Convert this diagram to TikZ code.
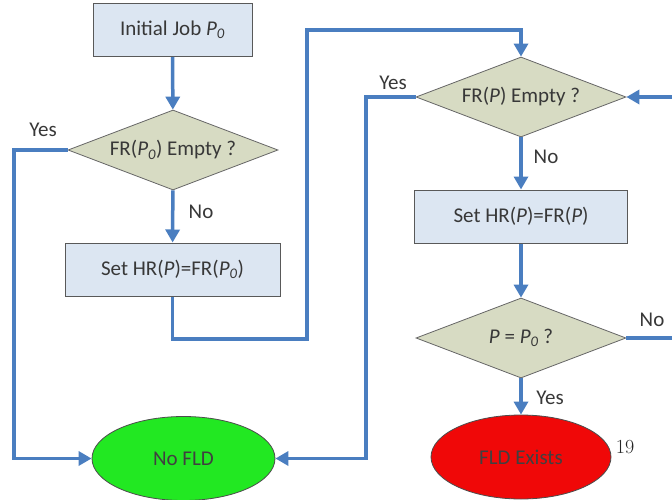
\documentclass[tikz,border=0pt]{standalone}
\usepackage{fontspec}
\setmainfont{Carlito}
\usetikzlibrary{shapes.geometric,arrows.meta}
\definecolor{flow}{HTML}{4A7EC0}
\definecolor{boxfill}{HTML}{DCE6F2}
\definecolor{decfill}{HTML}{D7DBC3}
\definecolor{txt}{HTML}{383838}
\tikzset{
  procbox/.style={draw=black!65, line width=1pt, fill=boxfill, minimum height=53pt, inner sep=0pt, text=txt, font=\fontsize{21}{24}\selectfont},
  decbox/.style={diamond, draw=black!60, line width=0.8pt, fill=decfill, minimum width=210pt, minimum height=80pt, aspect=2.6, inner sep=0pt, text=txt, font=\fontsize{21}{24}\selectfont},
  termbox/.style={ellipse, draw=black!70, line width=0.8pt, minimum width=183pt, minimum height=84pt, inner sep=0pt, text=black!75, font=\fontsize{21}{24}\selectfont},
  conn/.style={draw=flow, line width=3.5pt, -{Triangle[length=13pt,width=14pt]}},
  plain/.style={draw=flow, line width=3.5pt},
  lbl/.style={text=txt, font=\fontsize{21}{24}\selectfont, inner sep=0pt}
}
\begin{document}
\begin{tikzpicture}[x=1pt,y=-1pt]
\clip (0,0) rectangle (672,500);
\fill[white] (0,0) rectangle (672,500);
% nodes
\node[procbox, minimum width=159pt] (init) at (172.5,30) {Initial Job \textit{P\textsubscript{0}}};
\node[decbox] (d1) at (173,150) {FR(\textit{P\textsubscript{0}}) Empty ?};
\node[procbox, minimum width=215pt] (s1) at (172.5,269.5) {Set HR(\textit{P})=FR(\textit{P\textsubscript{0}})};
\node[decbox] (d2) at (521,97) {FR(\textit{P}) Empty ?};
\node[procbox, minimum width=213pt] (s2) at (521,216.5) {Set HR(\textit{P})=FR(\textit{P})};
\node[decbox] (d3) at (521,338) {\textit{P} = \textit{P\textsubscript{0}} ?};
\node[termbox, fill={rgb,255:red,34;green,232;blue,34}] (nofld) at (183.5,458.5) {No FLD};
\node[termbox, fill={rgb,255:red,240;green,8;blue,8}, minimum width=180pt] (fld) at (521,457) {FLD Exists};
\coordinate (rin) at (672,97);
\coordinate (rout) at (672,338);
% labels
\node[lbl] (y1) at (43,130) {Yes};
\node[lbl] (n1) at (201,212) {No};
\node[lbl] (y2) at (393,83) {Yes};
\node[lbl] (n2) at (546,157) {No};
\node[lbl] (n3) at (652,320) {No};
\node[lbl] (y3) at (550,398) {Yes};
\node[font=\fontfamily{lmr}\selectfont\fontsize{20}{22}\selectfont, text=black!85, inner sep=0pt] (pg) at (625,447) {19};
% connectors
\draw[conn] (init) -- (d1);
\draw[conn] (d1) -- (s1);
\draw[conn] (d1.west) -- (14,150) |- (nofld.west);
\draw[conn] (s1.south) -- (172.5,339) -- (307,339) -- (307,30) -| (d2.north);
\draw[conn] (d2.west) -- (366,97) |- (nofld.east);
\draw[conn] (rin) -- (d2.east);
\draw[conn] (d2) -- (s2);
\draw[conn] (s2) -- (d3);
\draw[plain] (d3.east) -- (rout);
\draw[conn] (d3) -- (fld);
\end{tikzpicture}
\end{document}
